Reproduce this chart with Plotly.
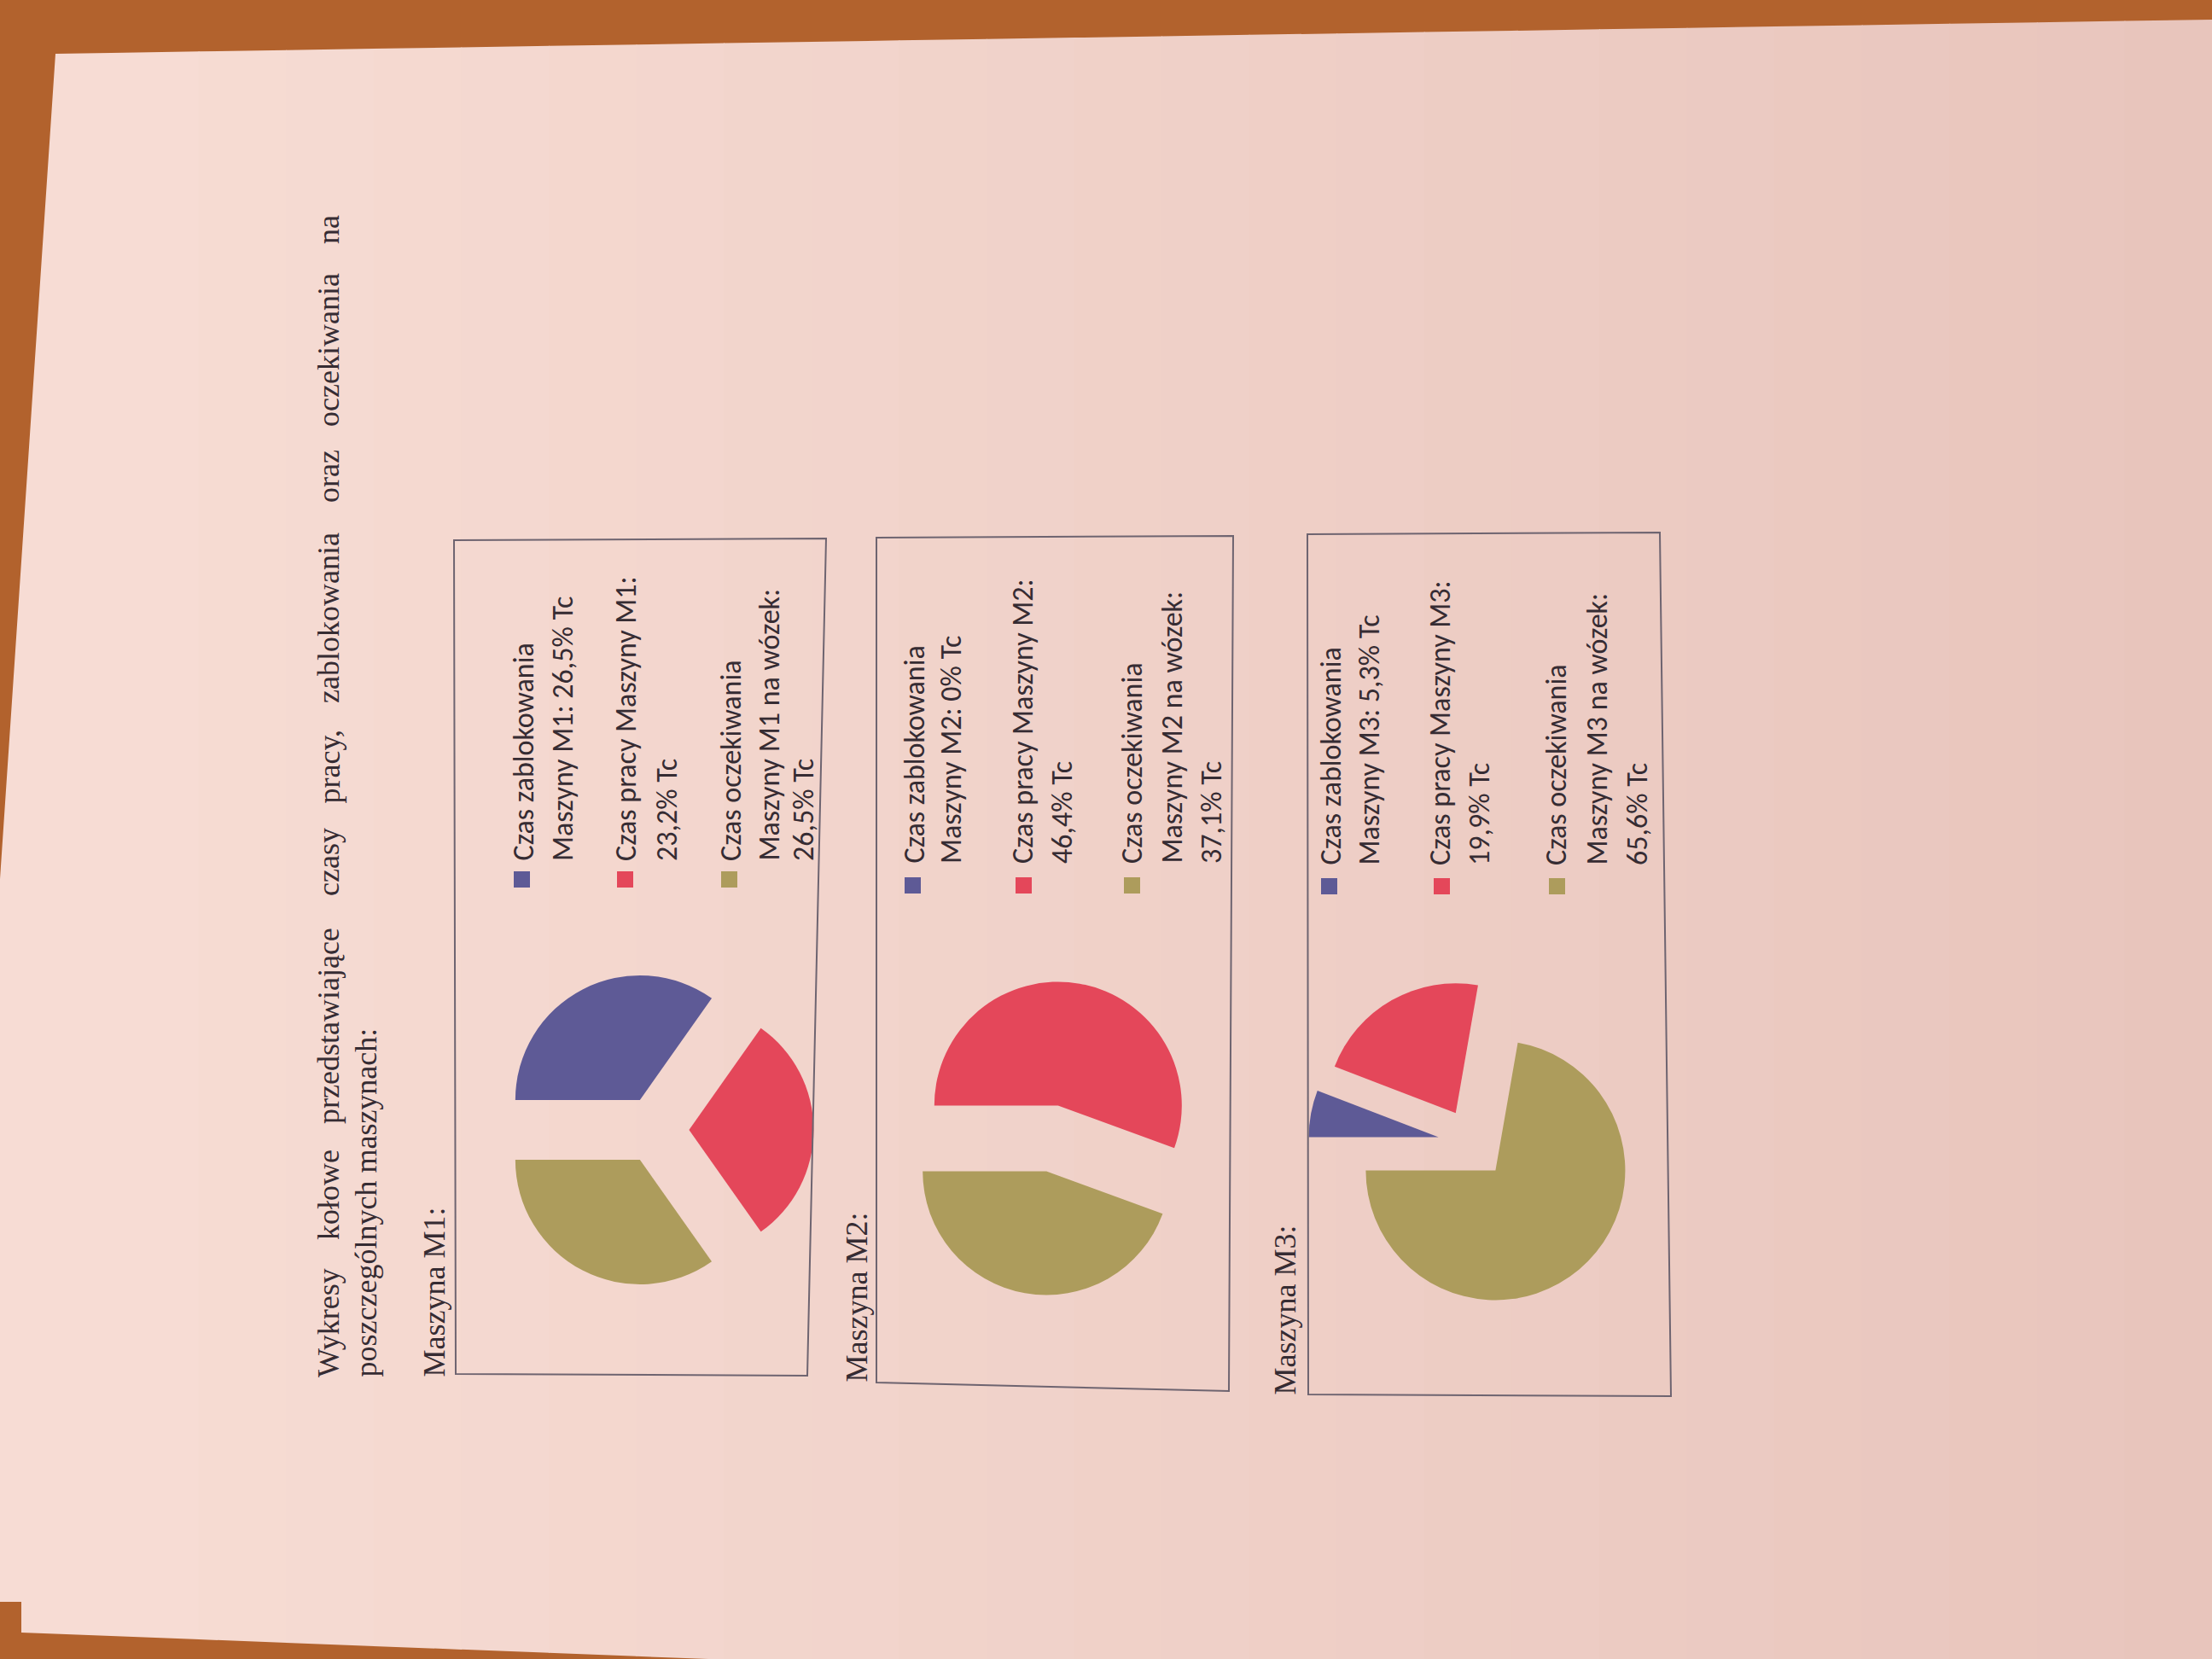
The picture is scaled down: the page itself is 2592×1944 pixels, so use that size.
import plotly.graph_objects as go

# ---------------- data ----------------
machines = ["M1", "M2", "M3"]
categories = ["Czas zablokowania", "Czas pracy", "Czas oczekiwania na wózek"]
m1_values = [26.5, 23.2, 26.5]
m2_values = [0.0, 46.4, 37.1]
m3_values = [5.3, 19.9, 65.6]
title_words = ["Wykresy", "kołowe", "przedstawiające", "czasy", "pracy,",
               "zablokowania", "oraz", "oczekiwania", "na"]
title_line2 = "poszczególnych maszynach:"

# ---------------- style / layout ----------------
W, H = 2592, 1944
slice_colors = ["#5E5A96", "#E4475A", "#AD9C5C"]
wood = "#B2622D"
paper_left = (247, 220, 212)
paper_right = (232, 197, 188)
ink = "#362C33"
box_col = "#6E6470"
PULL = 0.27
serif = "Liberation Serif, Times New Roman, serif"
sans = "Carlito, Lato, sans-serif"


def fx(x):
    return x / W


def fy(y):
    return 1 - y / H


def fmt(v):
    if float(v).is_integer():
        return str(int(v))
    return f"{v:.1f}".replace(".", ",")


def poly(points):
    p = " L ".join(f"{fx(x)},{fy(y)}" for x, y in points)
    return "M " + p + " Z"


def mix(t):
    c = [round(a + (b - a) * t) for a, b in zip(paper_left, paper_right)]
    return f"rgb({c[0]},{c[1]},{c[2]})"


def ytop(x):
    return 63 - 40 * (x - 65) / 2527


def ybot(x):
    return 1913 + 31 * (x - 25) / 805 if x < 830 else 1944


# pie centre (px), radius (px)
pie_geom = [(768, 1324, 146), (1233, 1334, 145), (1726, 1340, 152)]
# chart frames as corner lists (px)
frames = [
    [(532, 633), (968, 631), (946, 1612), (534, 1610)],
    [(1027, 630), (1445, 628), (1440, 1630), (1027, 1620)],
    [(1532, 626), (1945, 624), (1958, 1636), (1533, 1634)],
]
legend_cols = [
    [602, 648, 722, 770, 845, 890, 930],
    [1060, 1103, 1187, 1233, 1315, 1362, 1408],
    [1548, 1593, 1677, 1723, 1813, 1860, 1908],
]
legend_start = [1011, 1014, 1016]
square_x = [[602, 723, 845], [1060, 1190, 1317], [1548, 1680, 1815]]
square_y = [1021, 1028, 1029]
label_pos = [(496, 1616), (991, 1622), (1493, 1637)]

fig = go.Figure()
shapes = []
annotations = []

# paper sheet over wooden table (left part, then shaded bands)
shapes.append(dict(type="path", xref="paper", yref="paper",
                   path=poly([(65, 63), (130, ytop(130)), (130, ybot(130)), (25, 1913),
                              (25, 1877), (0, 1877), (0, 1030)]),
                   fillcolor=mix(0), line=dict(width=0), layer="below"))
nb = 24
xs = [130 + (W - 130) * k / nb for k in range(nb + 1)]
for k in range(nb):
    x0, x1 = xs[k], xs[k + 1] + 1
    pts = [(x0, ytop(x0)), (x1, ytop(x1))]
    if x0 < 830 < x1:
        pts += [(x1, 1944), (830, 1944), (x0, ybot(x0))]
    else:
        pts += [(x1, ybot(x1)), (x0, ybot(x0))]
    shapes.append(dict(type="path", xref="paper", yref="paper", path=poly(pts),
                       fillcolor=mix((k + 0.5) / nb), line=dict(width=0), layer="below"))

all_values = [m1_values, m2_values, m3_values]
for i, (m, vals) in enumerate(zip(machines, all_values)):
    cx, cy, r = pie_geom[i]
    S = 2 * r * (1 + PULL)
    fig.add_trace(go.Pie(
        values=vals, labels=categories, sort=False, direction="clockwise",
        rotation=270, pull=[PULL] * len(vals), textinfo="none",
        marker=dict(colors=slice_colors, line=dict(width=0)),
        showlegend=False, hoverinfo="label+value",
        domain=dict(x=[fx(cx - S / 2), fx(cx + S / 2)],
                    y=[fy(cy + S / 2), fy(cy - S / 2)]),
    ))
    shapes.append(dict(type="path", xref="paper", yref="paper", path=poly(frames[i]),
                       line=dict(color=box_col, width=2), fillcolor="rgba(0,0,0,0)"))
    for k in range(3):
        sx = square_x[i][k]
        sy = square_y[i]
        shapes.append(dict(type="rect", xref="paper", yref="paper",
                           x0=fx(sx), x1=fx(sx + 19), y0=fy(sy + 19), y1=fy(sy),
                           fillcolor=slice_colors[k], line=dict(width=0)))
    lines = [
        "Czas zablokowania", f"Maszyny {m}: {fmt(vals[0])}% Tc",
        f"Czas pracy Maszyny {m}:", f"{fmt(vals[1])}% Tc",
        "Czas oczekiwania", f"Maszyny {m} na wózek:", f"{fmt(vals[2])}% Tc",
    ]
    for t, cap in zip(lines, legend_cols[i]):
        annotations.append(dict(text=t, x=fx(cap + 11), y=fy(legend_start[i]),
                                xref="paper", yref="paper", xanchor="center", yanchor="bottom",
                                textangle=-90, showarrow=False,
                                font=dict(family=sans, size=34, color=ink)))
    lx, ly = label_pos[i]
    annotations.append(dict(text=f"Maszyna {m}:", x=fx(lx + 12), y=fy(ly),
                            xref="paper", yref="paper", xanchor="center", yanchor="bottom",
                            textangle=-90, showarrow=False,
                            font=dict(family=serif, size=36, color=ink)))

word_starts = [1616, 1455, 1319, 1052, 944, 826, 591, 502, 288]
for w, ys in zip(title_words, word_starts):
    annotations.append(dict(text=w, x=fx(373 + 12), y=fy(ys), xref="paper", yref="paper",
                            xanchor="center", yanchor="bottom", textangle=-90, showarrow=False,
                            font=dict(family=serif, size=36, color=ink)))
annotations.append(dict(text=title_line2, x=fx(416 + 12), y=fy(1616), xref="paper", yref="paper",
                        xanchor="center", yanchor="bottom", textangle=-90, showarrow=False,
                        font=dict(family=serif, size=36, color=ink)))

fig.update_layout(
    width=W, height=H, margin=dict(l=0, r=0, t=0, b=0),
    paper_bgcolor=wood, plot_bgcolor=wood,
    shapes=shapes, annotations=annotations, showlegend=False,
)
fig.write_html("out.html")
